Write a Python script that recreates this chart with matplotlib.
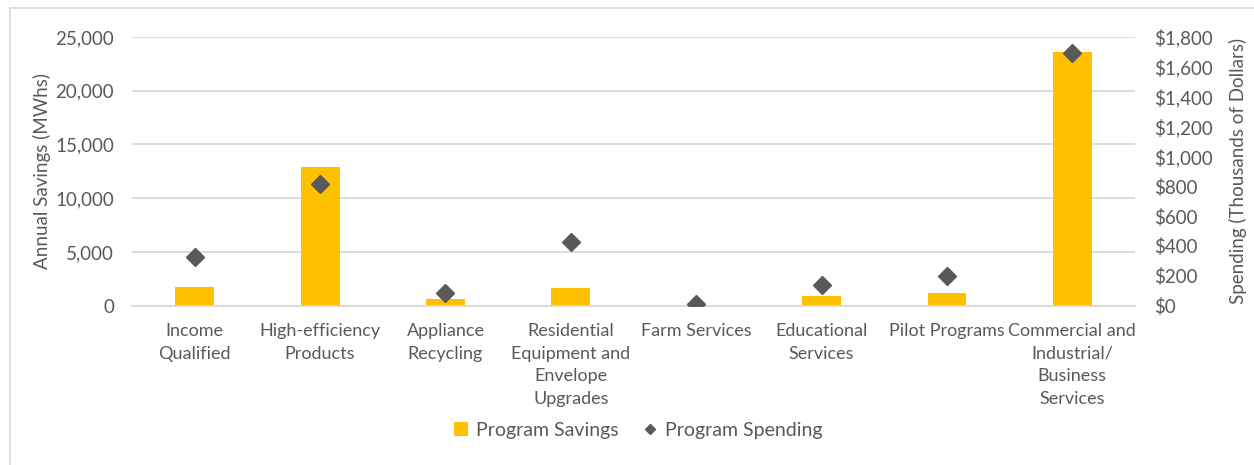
import matplotlib.pyplot as plt
from matplotlib.patches import Rectangle
from matplotlib.ticker import FuncFormatter

plt.rcParams['font.family'] = ['Lato', 'DejaVu Sans']

categories = [
    "Income\nQualified",
    "High-efficiency\nProducts",
    "Appliance\nRecycling",
    "Residential\nEquipment and\nEnvelope\nUpgrades",
    "Farm Services",
    "Educational\nServices",
    "Pilot Programs",
    "Commercial and\nIndustrial/\nBusiness\nServices",
]
savings_mwh = [1770, 12900, 595, 1675, 10, 900, 1180, 23650]
spending_k = [323, 813, 87, 427, 9, 137, 196, 1693]

TXT = "#595959"
GRID = "#D9D9D9"
BAR = "#FFC000"
DIA = "#595959"

fig = plt.figure(figsize=(12.54, 4.65), dpi=100)
ax = fig.add_axes([0.1053, 0.3426, 0.7998, 0.5778])
ax2 = ax.twinx()

x = list(range(len(categories)))
ax.bar(x, savings_mwh, width=0.31, color=BAR, zorder=2, label="Program Savings")
ax2.plot(x, spending_k, linestyle="none", marker="D", markersize=9.5,
         color=DIA, zorder=3, label="Program Spending")

ax.set_xlim(-0.5, 7.5)
ax.set_ylim(0, 25000)
ax2.set_ylim(0, 1800)
ax.set_yticks(range(0, 25001, 5000))
ax2.set_yticks(range(0, 1801, 200))
ax.yaxis.set_major_formatter(FuncFormatter(lambda v, p: f"{int(v):,}"))
ax2.yaxis.set_major_formatter(FuncFormatter(lambda v, p: f"${int(v):,}"))

ax.set_xticks(x)
ax.set_xticklabels(categories, fontsize=13, color=TXT, linespacing=1.5)
ax.grid(axis="y", color=GRID, linewidth=1.3, zorder=0)
ax.set_axisbelow(True)

for a in (ax, ax2):
    for s in a.spines.values():
        s.set_visible(False)
    a.tick_params(length=0, labelsize=13.5, colors=TXT)
ax.spines["bottom"].set_visible(True)
ax.spines["bottom"].set_color(GRID)
ax.spines["bottom"].set_linewidth(1.3)
ax.tick_params(axis="x", pad=12.5, labelsize=13)
ax.tick_params(axis="y", pad=13)
ax2.tick_params(axis="y", pad=14)

ax.set_ylabel("Annual Savings (MWhs)", fontsize=13.5, color=TXT, labelpad=3)
ax2.set_ylabel("Spending (Thousands of Dollars)", fontsize=13.5, color=TXT, labelpad=11)

h1, l1 = ax.get_legend_handles_labels()
h2, l2 = ax2.get_legend_handles_labels()
leg = fig.legend(h1 + h2, l1 + l2, loc="center", bbox_to_anchor=(0.509, 0.075),
                 ncol=2, frameon=False, fontsize=14, handlelength=0.7,
                 handletextpad=0.4, columnspacing=1.3, markerscale=0.5)
for t in leg.get_texts():
    t.set_color(TXT)

fig.patches.append(Rectangle((10 / 1254, -0.1), 1.2, 1 - 8 / 465 + 0.1,
                             transform=fig.transFigure, fill=False,
                             edgecolor=GRID, linewidth=1.2))

fig.savefig("out.png", dpi=100)
